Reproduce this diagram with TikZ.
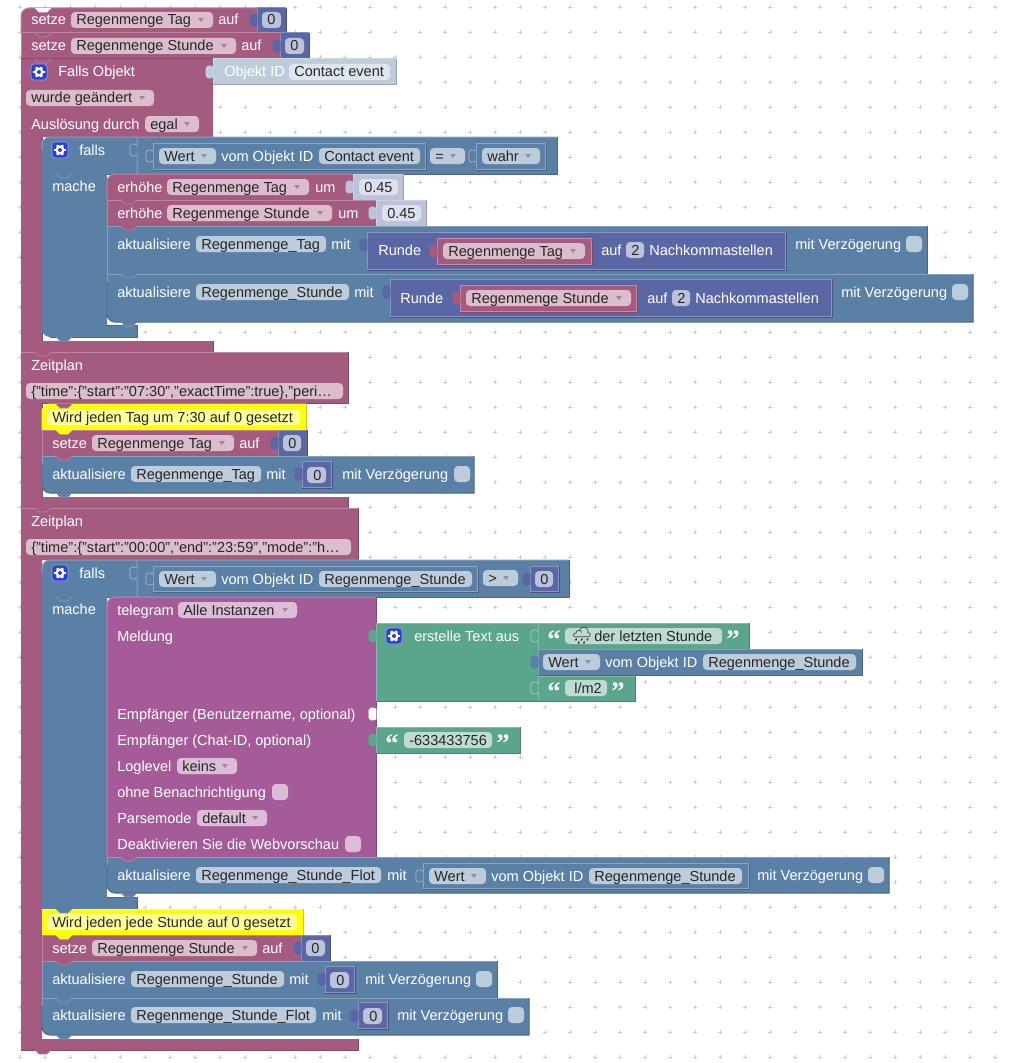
\documentclass[tikz,border=0pt]{standalone}
\usepackage{fontspec}
\setmainfont{Liberation Sans}
\newfontfamily\quotefont{Liberation Serif}
\newfontfamily\emojifont{Noto Emoji}
\definecolor{pvar}{HTML}{A55B80}   \definecolor{pvarF}{HTML}{DBBDCC}
\definecolor{steel}{HTML}{5B80A5}  \definecolor{steelF}{HTML}{BDCCDB}
\definecolor{mathb}{HTML}{5B67A5}  \definecolor{mathbF}{HTML}{BDC2DB}
\definecolor{green}{HTML}{5BA58C}  \definecolor{greenF}{HTML}{BDDBD1}
\definecolor{tele}{HTML}{A65B99}   \definecolor{teleF}{HTML}{DBBDD6}
\definecolor{shid}{HTML}{BDCCDB}   \definecolor{shidF}{HTML}{DEE6ED}
\definecolor{shnum}{HTML}{BDC2DB}  \definecolor{shnumF}{HTML}{DEE1ED}
\definecolor{yel}{HTML}{FFFF00}    \definecolor{yelF}{HTML}{FFFF99}
\definecolor{gearb}{HTML}{2B3FD0}
\definecolor{gridc}{HTML}{CCCCCC}
\tikzset{
    lbl/.style={anchor=base west,inner sep=0pt,text=white,font=\fontsize{10.9}{13}\selectfont},
    fldtxt/.style={lbl,text=black!85},
    qmark/.style={anchor=base west,inner sep=0pt,text=white,font=\quotefont\bfseries\fontsize{20}{20}\selectfont},
    cloud/.style={anchor=base west,inner sep=0pt,text=black!85,font=\emojifont\fontsize{12.5}{13}\selectfont},
    lite/.style={line width=0.75pt,#1!75!white},
    dark/.style={line width=0.75pt,#1!80!black},
}
\newcounter{txtno}
%% plain text on a block
\newcommand{\txt}[3]{\stepcounter{txtno}\node[lbl] (txt\arabic{txtno}) at (#1,#2+5) {#3};}
%% rectangular block: x1 y1 x2 y2 colour
\newcommand{\blk}[5]{%
    \fill[#5] (#1,#2) rectangle (#3,#4);
    \draw[lite=#5] (#1,#4) -- (#1,#2) -- (#3,#2);
    \draw[dark=#5] (#1,#4) -- (#3,#4) -- (#3,#2);}
%% same, top left corner round
\newcommand{\blkt}[5]{%
    \fill[#5] (#1,#4) [rounded corners=6pt] -- (#1,#2) [sharp corners] -- (#3,#2) -- (#3,#4) -- cycle;
    \draw[lite=#5] (#1,#4) [rounded corners=6pt] -- (#1,#2) [sharp corners] -- (#3,#2);
    \draw[dark=#5] (#1,#4) -- (#3,#4) -- (#3,#2);}
%% same, bottom left corner round
\newcommand{\blkb}[5]{%
    \fill[#5] (#3,#4) [rounded corners=6pt] -- (#1,#4) [sharp corners] -- (#1,#2) -- (#3,#2) -- cycle;
    \draw[lite=#5] (#1,#4-8) -- (#1,#2) -- (#3,#2);
    \draw[dark=#5] (#3,#2) -- (#3,#4) [rounded corners=6pt] -- (#1,#4) [sharp corners] -- (#1,#2+8);}
%% block nested in another block
\newcommand{\nest}[5]{%
    \blk{#1}{#2}{#3}{#4}{#5}
    \draw[line width=0.5pt,#5!70!white] (#1+0.8,#2+0.8) rectangle (#3-0.8,#4-0.8);}
%% field with its text: x1 yc x2 colour text
\newcommand{\fld}[6][5]{%
    \fill[#5F,rounded corners=3pt] (#2,#3-8) rectangle (#4,#3+8);
    \stepcounter{txtno}\node[fldtxt] (txt\arabic{txtno}) at (#2+#1,#3+5) {#6};}
%% field with a dropdown arrow
\newcommand{\dd}[5]{%
    \fld{#1}{#2}{#3}{#4}{#5}
    \fill[#4!80!white] (#3-15,#2-2) -- (#3-9,#2-2) -- (#3-12,#2+2) -- cycle;}
%% checkbox
\newcommand{\chk}[3]{\fill[#3F,rounded corners=3pt] (#1,#2-8) rectangle (#1+16,#2+8);}
%% puzzle tab, x is the block edge, y the tab centre
\newcommand{\tb}[3]{%
    \draw[line width=0.5pt,#3,fill=#3] (#1,#2-5) .. controls (#1-4,#2-7) and (#1-8,#2-7) .. (#1-7,#2) .. controls (#1-8,#2+7) and (#1-4,#2+7) .. (#1,#2+5) -- cycle;}
%% hollow tab of a block of the same colour
\newcommand{\tbo}[3]{%
    \draw[line width=0.6pt,#3!60!white,fill=#3] (#1,#2-5) .. controls (#1-4,#2-7) and (#1-8,#2-7) .. (#1-7,#2) .. controls (#1-8,#2+7) and (#1-4,#2+7) .. (#1,#2+5);}
%% notch under a block: x is the block left, y the joint
\newcommand{\nt}[3]{%
    \draw[line width=0.5pt,#3!75!white,fill=#3] (#1+14,#2) -- (#1+18,#2+4) -- (#1+26,#2+4) -- (#1+30,#2);}
%% gear button
\newcommand{\gear}[2]{%
    \fill[gearb,draw=gearb!50!white,line width=0.5pt,rounded corners=2.5pt] (#1-8,#2-8) rectangle (#1+8,#2+8);
    \foreach \ang in {0,60,...,300} \draw[white,line width=1.8pt] (#1,#2) -- ++(\ang:5.6);
    \fill[white] (#1,#2) circle (4.6);
    \fill[gearb] (#1,#2) circle (2);}
%% text in quotes
\newcommand{\qtl}[2]{\stepcounter{txtno}\node[qmark] (txt\arabic{txtno}) at (#1,#2+12) {“};}
\newcommand{\qtr}[2]{\stepcounter{txtno}\node[qmark] (txt\arabic{txtno}) at (#1,#2+12) {”};}
\begin{document}
\begin{tikzpicture}[x=0.75pt,y=-0.75pt]
    \useasboundingbox (0,0) rectangle (1009,1063);
    \fill[white] (0,0) rectangle (1009,1063);
    %% grid
    \foreach \gx in {20,45,...,1005}
        \foreach \gy in {7,32,...,1060}
            \draw[gridc,line width=0.4pt] (\gx-2,\gy) -- (\gx+2,\gy) (\gx,\gy-2) -- (\gx,\gy+2);

    %% first two setters
    \blkt{21}{8}{257}{33}{pvar}
    \nt{21}{8}{white}
    \blk{257}{8}{286}{33}{mathb}
    \tb{257}{20}{mathb}
    \txt{31}{20}{setze}
    \dd{71}{20}{213}{pvar}{Regenmenge Tag}
    \txt{218}{20}{auf}
    \fld{262}{20}{281}{mathb}{0}
    \blk{21}{33}{280}{59}{pvar}
    \nt{21}{33}{pvar}
    \blk{280}{33}{309}{59}{mathb}
    \tb{280}{46}{mathb}
    \txt{31}{46}{setze}
    \dd{71}{46}{236}{pvar}{Regenmenge Stunde}
    \txt{241}{46}{auf}
    \fld{285}{46}{304}{mathb}{0}

    %% trigger on object
    \fill[pvar] (21,59) -- (213,59) -- (213,137) -- (42,137) -- (42,341) -- (213,341) -- (213,352) -- (21,352) -- cycle;
    \draw[dark=pvar] (42,341) -- (42,137) (21,352) -- (213,352) -- (213,341);
    \nt{21}{59}{pvar}
    \blk{213}{59}{396}{85}{shid}
    \tb{213}{72}{shid}
    \gear{39}{72}
    \txt{58}{72}{Falls Objekt}
    \txt{224}{72}{Objekt ID}
    \fld{289}{72}{390}{shid}{Contact event}
    \dd{26}{98}{154}{pvar}{wurde geändert}
    \txt{31}{124}{Auslösung durch}
    \dd{145}{124}{199}{pvar}{egal}

    %% falls 1
    \fill[steel] (42,174) [rounded corners=6pt] -- (42,137) [sharp corners] -- (557,137) -- (557,174) -- (107,174) -- (107,325) -- (137,325) -- (137,337) [rounded corners=6pt] -- (42,337) [sharp corners] -- cycle;
    \draw[dark=steel] (557,137) -- (557,174) -- (107,174) (107,325) -- (137,325) -- (137,337) -- (50,337);
    \draw[lite=steel] (137,137) -- (137,174) (42,150) [rounded corners=6pt] -- (42,137) [sharp corners] -- (557,137);
    \tbo{137}{150}{steel}
    \gear{60}{150}
    \txt{79}{150}{falls}
    \txt{52}{186}{mache}
    \nest{153}{143}{426}{170}{steel}
    \tbo{153}{156}{steel}
    \dd{159}{156}{216}{steel}{Wert}
    \txt{221}{156}{vom Objekt ID}
    \fld{319}{156}{420}{steel}{Contact event}
    \dd{430}{156}{465}{steel}{=}
    \nest{476}{143}{546}{170}{steel}
    \tbo{476}{156}{steel}
    \dd{482}{156}{540}{steel}{wahr}
    %% increments
    \blkt{107}{174}{353}{200}{pvar}
    \nt{42}{174}{steel}
    \blk{353}{174}{403}{200}{shnum}
    \tb{353}{187}{shnum}
    \txt{117}{187}{erhöhe}
    \dd{167}{187}{309}{pvar}{Regenmenge Tag}
    \txt{315}{187}{um}
    \fld{359}{187}{398}{shnum}{0.45}
    \blk{107}{200}{376}{226}{pvar}
    \nt{107}{200}{pvar}
    \blk{376}{200}{426}{226}{shnum}
    \tb{376}{213}{shnum}
    \txt{117}{213}{erhöhe}
    \dd{167}{213}{332}{pvar}{Regenmenge Stunde}
    \txt{338}{213}{um}
    \fld{382}{213}{421}{shnum}{0.45}
    %% updates with rounding
    \blk{107}{226}{927}{274}{steel}
    \nt{107}{226}{pvar}
    \txt{117}{244}{aktualisiere}
    \fld{196}{244}{326}{steel}{Regenmenge\_Tag}
    \txt{331}{244}{mit}
    \nest{367}{232}{786}{270}{mathb}
    \tb{367}{245}{mathb}
    \txt{378}{250}{Runde}
    \nest{437}{238}{592}{265}{pvar}
    \tb{437}{251}{pvar}
    \dd{443}{251}{585}{pvar}{Regenmenge Tag}
    \txt{601}{250}{auf}
    \fld{626}{250}{644}{mathb}{2}
    \txt{649}{250}{Nachkommastellen}
    \txt{795}{244}{mit Verzögerung}
    \chk{906}{244}{steel}
    \blkb{107}{274}{973}{322}{steel}
    \nt{107}{274}{steel}
    \nt{107}{322}{steel}
    \txt{117}{292}{aktualisiere}
    \fld{196}{292}{349}{steel}{Regenmenge\_Stunde}
    \txt{354}{292}{mit}
    \nest{390}{279}{832}{317}{mathb}
    \tb{390}{292}{mathb}
    \txt{400}{298}{Runde}
    \nest{460}{285}{637}{312}{pvar}
    \tb{460}{298}{pvar}
    \dd{466}{298}{631}{pvar}{Regenmenge Stunde}
    \txt{647}{298}{auf}
    \fld{672}{298}{690}{mathb}{2}
    \txt{695}{298}{Nachkommastellen}
    \txt{841}{292}{mit Verzögerung}
    \chk{952}{292}{steel}
    \nt{42}{337}{steel}

    %% schedule 1
    \fill[pvar] (21,352) -- (348,352) -- (348,403) -- (42,403) -- (42,497) -- (348,497) -- (348,508) -- (21,508) -- cycle;
    \draw[dark=pvar] (348,352) -- (348,403) -- (42,403) -- (42,497) (21,508) -- (348,508) -- (348,497);
    \draw[lite=pvar] (21,352) -- (348,352);
    \nt{21}{352}{pvar}
    \txt{31}{365}{Zeitplan}
    \fld{26}{391}{343}{pvar}{\{"time":\{"start":"07:30","exactTime":true\},"peri…}
    \blkt{42}{404}{306}{430}{yel}
    \nt{42}{404}{pvar}
    \fld{47}{417}{300}{yel}{Wird jeden Tag um 7:30 auf 0 gesetzt}
    \blk{42}{430}{278}{456}{pvar}
    \nt{42}{430}{yel}
    \blk{278}{430}{307}{456}{mathb}
    \tb{278}{443}{mathb}
    \txt{52}{443}{setze}
    \dd{92}{443}{234}{pvar}{Regenmenge Tag}
    \txt{239}{443}{auf}
    \fld{283}{443}{301}{mathb}{0}
    \blkb{42}{456}{474}{493}{steel}
    \nt{42}{456}{pvar}
    \nt{42}{493}{steel}
    \txt{52}{474}{aktualisiere}
    \fld{131}{474}{261}{steel}{Regenmenge\_Tag}
    \txt{266}{474}{mit}
    \nest{302}{461}{332}{488}{mathb}
    \tb{302}{474}{mathb}
    \fld[6]{307}{475}{326}{mathb}{0}
    \txt{342}{474}{mit Verzögerung}
    \chk{454}{474}{steel}

    %% schedule 2
    \fill[pvar] (21,508) -- (358,508) -- (358,560) -- (42,560) -- (42,1039) -- (358,1039) -- (358,1050) -- (21,1050) -- cycle;
    \draw[dark=pvar] (358,508) -- (358,560) (21,1050) -- (358,1050) -- (358,1039);
    \draw[lite=pvar] (21,508) -- (358,508);
    \nt{21}{508}{pvar}
    \nt{21}{1050}{pvar}
    \txt{31}{521}{Zeitplan}
    \fld{26}{547}{351}{pvar}{\{"time":\{"start":"00:00","end":"23:59","mode":"h…}

    %% falls 2
    \fill[steel] (42,597) [rounded corners=6pt] -- (42,560) [sharp corners] -- (569,560) -- (569,597) -- (107,597) -- (107,897) -- (137,897) -- (137,909) -- (42,909) -- cycle;
    \draw[dark=steel] (569,560) -- (569,597) -- (107,597) (107,897) -- (137,897) -- (137,909);
    \draw[lite=steel] (137,560) -- (137,597) (42,573) [rounded corners=6pt] -- (42,560) [sharp corners] -- (569,560);
    \tbo{137}{573}{steel}
    \gear{60}{573}
    \txt{79}{573}{falls}
    \txt{52}{609}{mache}
    \nest{153}{566}{478}{592}{steel}
    \tbo{153}{579}{steel}
    \dd{159}{579}{216}{steel}{Wert}
    \txt{221}{579}{vom Objekt ID}
    \fld{319}{579}{472}{steel}{Regenmenge\_Stunde}
    \dd{483}{578}{518}{steel}{>}
    \nest{530}{566}{559}{592}{mathb}
    \tb{530}{579}{mathb}
    \fld{535}{579}{553}{mathb}{0}
    %% telegram
    \blkt{107}{597}{376}{857}{tele}
    \nt{42}{597}{steel}
    \txt{117}{610}{telegram}
    \dd{178}{610}{297}{tele}{Alle Instanzen}
    \txt{117}{636}{Meldung}
    \txt{117}{714}{Empfänger (Benutzername, optional)}
    \txt{117}{740}{Empfänger (Chat-ID, optional)}
    \txt{117}{766}{Loglevel}
    \dd{177}{766}{237}{tele}{keins}
    \txt{117}{792}{ohne Benachrichtigung}
    \chk{272}{792}{tele}
    \txt{117}{818}{Parsemode}
    \dd{197}{818}{267}{tele}{default}
    \txt{117}{844}{Deaktivieren Sie die Webvorschau}
    \chk{345}{844}{tele}
    \tb{376}{714}{white}
    %% text join
    \blk{376}{623}{538}{701}{green}
    \tb{376}{636}{green}
    \gear{394}{636}
    \txt{414}{636}{erstelle Text aus}
    \blk{538}{623}{749}{649}{green}
    \tbo{538}{636}{green}
    \qtl{547}{636}
    \fld[29]{565}{636}{722}{green}{der letzten Stunde}
    \node[cloud] (rain) at (571,641) {🌧};
    \qtr{726}{636}
    \blk{538}{649}{862}{675}{steel}
    \tb{538}{662}{steel}
    \dd{543}{662}{600}{steel}{Wert}
    \txt{605}{662}{vom Objekt ID}
    \fld{703}{662}{856}{steel}{Regenmenge\_Stunde}
    \blk{538}{676}{635}{701}{green}
    \tbo{538}{688}{green}
    \qtl{547}{688}
    \fld[9]{565}{688}{607}{green}{l/m2}
    \qtr{611}{688}
    \blk{376}{727}{520}{753}{green}
    \tb{376}{740}{green}
    \qtl{385}{740}
    \fld{404}{740}{492}{green}{-633433756}
    \qtr{496}{740}
    %% update after telegram
    \blkb{107}{857}{889}{893}{steel}
    \nt{107}{857}{tele}
    \nt{107}{893}{steel}
    \txt{117}{875}{aktualisiere}
    \fld{196}{875}{381}{steel}{Regenmenge\_Stunde\_Flot}
    \txt{387}{875}{mit}
    \nest{423}{863}{749}{889}{steel}
    \tbo{423}{876}{steel}
    \dd{429}{876}{486}{steel}{Wert}
    \txt{491}{876}{vom Objekt ID}
    \fld{589}{876}{742}{steel}{Regenmenge\_Stunde}
    \txt{757}{875}{mit Verzögerung}
    \chk{868}{875}{steel}

    %% reset
    \blk{42}{909}{303}{935}{yel}
    \nt{42}{909}{steel}
    \fld{47}{922}{297}{yel}{Wird jeden jede Stunde auf 0 gesetzt}
    \blk{42}{935}{301}{961}{pvar}
    \nt{42}{935}{yel}
    \blk{301}{935}{330}{961}{mathb}
    \tb{301}{948}{mathb}
    \txt{52}{948}{setze}
    \dd{92}{948}{257}{pvar}{Regenmenge Stunde}
    \txt{262}{948}{auf}
    \fld{306}{948}{325}{mathb}{0}
    \blk{42}{961}{497}{998}{steel}
    \nt{42}{961}{pvar}
    \txt{52}{979}{aktualisiere}
    \fld{131}{979}{284}{steel}{Regenmenge\_Stunde}
    \txt{289}{979}{mit}
    \nest{325}{966}{355}{993}{mathb}
    \tb{325}{979}{mathb}
    \fld[6]{330}{980}{349}{mathb}{0}
    \txt{365}{979}{mit Verzögerung}
    \chk{476}{979}{steel}
    \blkb{42}{998}{529}{1035}{steel}
    \nt{42}{998}{steel}
    \nt{42}{1035}{steel}
    \txt{52}{1015}{aktualisiere}
    \fld{131}{1015}{316}{steel}{Regenmenge\_Stunde\_Flot}
    \txt{322}{1015}{mit}
    \nest{358}{1002}{388}{1029}{mathb}
    \tb{358}{1016}{mathb}
    \fld[6]{363}{1016}{382}{mathb}{0}
    \txt{397}{1015}{mit Verzögerung}
    \chk{508}{1015}{steel}
\end{tikzpicture}
\end{document}
